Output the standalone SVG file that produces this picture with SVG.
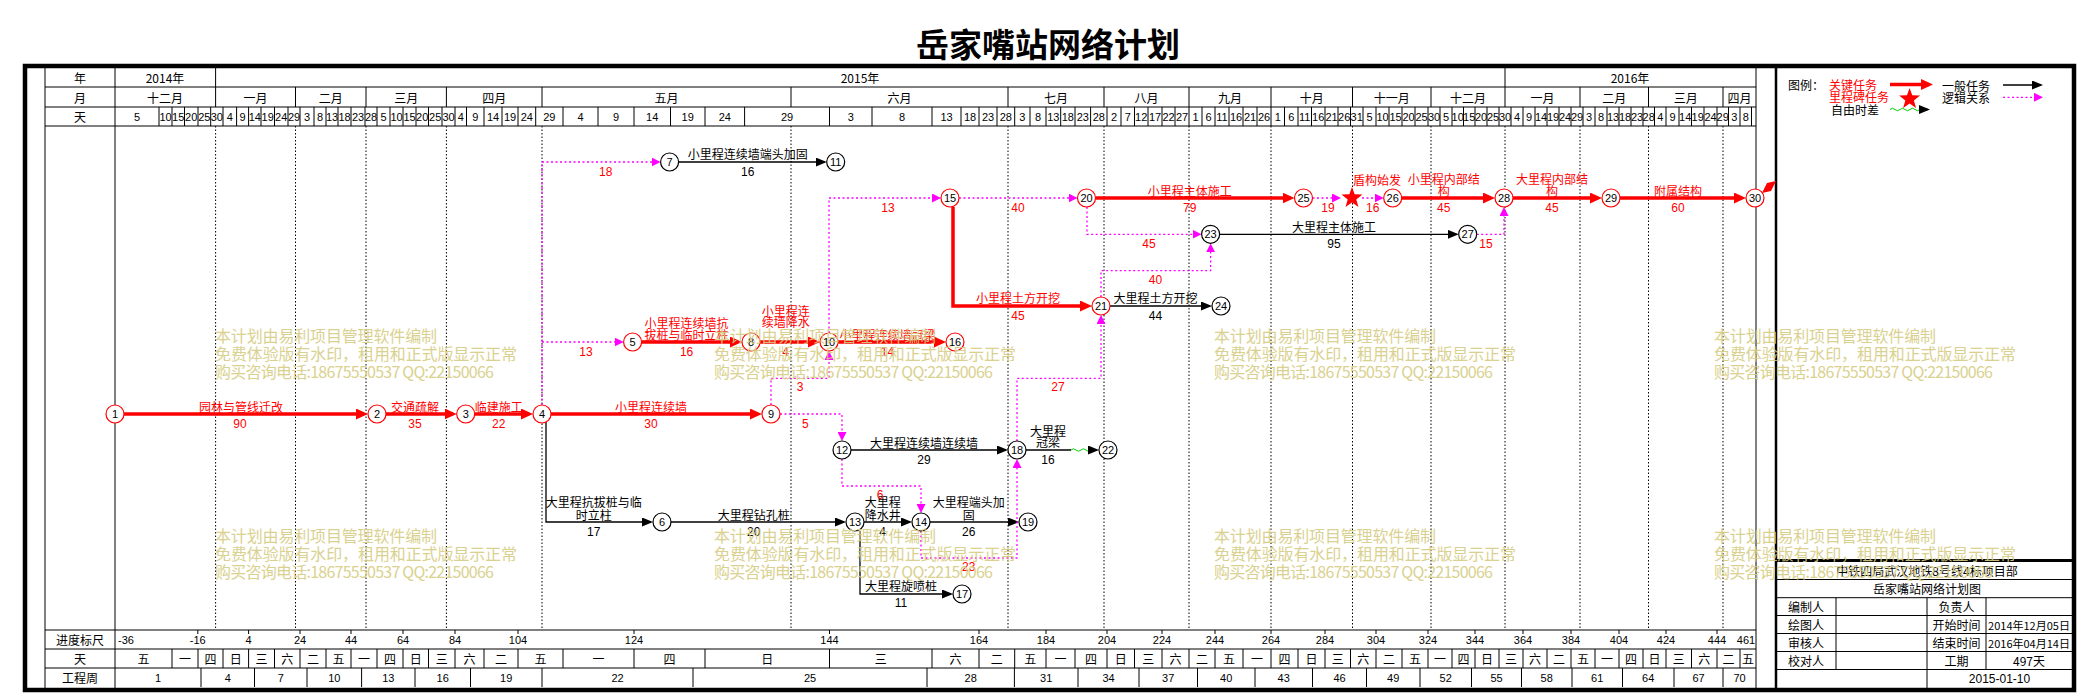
<svg xmlns="http://www.w3.org/2000/svg" width="2080" height="694" viewBox="0 0 2080 694">
<style>
text{font-family:"Noto Sans CJK SC","Liberation Sans",sans-serif;font-size:12px;fill:#000;text-anchor:middle;dominant-baseline:central}
.n{font-family:"Liberation Sans Narrow","Liberation Sans","DejaVu Sans",sans-serif;font-size:11px}
.d{font-family:"Liberation Sans Narrow","Liberation Sans","DejaVu Sans",sans-serif;font-size:12px}
.r{fill:#f00}
.st{text-anchor:start}
.thin{stroke:#000;stroke-width:1;fill:none}
.grid{stroke:#000;stroke-width:1;stroke-dasharray:1.5 2;fill:none}
.crit{stroke:#f00;stroke-width:3.5;fill:none}
.gen{stroke:#000;stroke-width:1.3;fill:none}
.lg{stroke:#f0f;stroke-width:1.3;stroke-dasharray:2 2.5;fill:none}
.node circle{fill:#fff;stroke:#000;stroke-width:1.2}
.node.c circle{stroke:#f00}
.wm text{fill:#d6cd84;font-size:16px;text-anchor:start;opacity:0.9}
</style>
<defs>
<marker id="arR" markerUnits="userSpaceOnUse" markerWidth="12" markerHeight="11" viewBox="0 0 12 11" refX="8" refY="5.5" orient="auto"><polygon points="0,0 12,5.5 0,11" fill="#f00"/></marker>
<marker id="arK" markerUnits="userSpaceOnUse" markerWidth="11" markerHeight="9" viewBox="0 0 11 9" refX="9" refY="4.5" orient="auto"><polygon points="0,0 11,4.5 0,9" fill="#000"/></marker>
<marker id="arM" markerUnits="userSpaceOnUse" markerWidth="9" markerHeight="9" viewBox="0 0 9 9" refX="7" refY="4.5" orient="auto"><polygon points="0,0 9,4.5 0,9" fill="#f0f"/></marker>
<polygon id="star" points="0,-11 2.65,-3.64 10.46,-3.4 4.28,1.39 6.47,8.9 0,4.5 -6.47,8.9 -4.28,1.39 -10.46,-3.4 -2.65,-3.64" fill="#f00"/>
</defs>
<rect x="0" y="0" width="2080" height="694" fill="#fff"/>
<text x="1048" y="43" style="font-size:33px;font-weight:bold">岳家嘴站网络计划</text>

<g id="frame">
<rect x="25" y="66" width="2049" height="624" fill="none" stroke="#000" stroke-width="4.5"/>
<path class="thin" d="M45,68V688 M115,68V688 M1756,68V688 M45,87H1756 M45,107H1756 M45,126H1756 M45,630H1756 M45,649H1756 M45,668H1756"/>
<path d="M1776,66V690" stroke="#000" stroke-width="2.5"/>
<path class="thin" d="M215.6,68v19 M1505,68v19"/>
<path class="thin" d="M215.6,87v20 M295.5,87v20 M366,87v20 M446.4,87v20 M542,87v20 M791,87v20 M1008,87v20 M1104,87v20 M1189,87v20 M1271,87v20 M1352.5,87v20 M1431,87v20 M1505,87v20 M1580,87v20 M1648.5,87v20 M1723,87v20"/>
<path class="thin" d="M159,107v19M172,107v19M184.5,107v19M198,107v19M210.7,107v19M223,107v19M236.6,107v19M248.6,107v19M261,107v19M274.5,107v19M288,107v19M300,107v19M314,107v19M326,107v19M338,107v19M351,107v19M365,107v19M377,107v19M390,107v19M403,107v19M416,107v19M428.5,107v19M442,107v19M455,107v19M466.5,107v19M484,107v19M502,107v19M518,107v19M535.7,107v19M563,107v19M598,107v19M634,107v19M670.5,107v19M705,107v19M744.6,107v19M829.5,107v19M872,107v19M932,107v19M961,107v19M979,107v19M997,107v19M1014.7,107v19M1030,107v19M1046,107v19M1060.7,107v19M1075,107v19M1090.6,107v19M1107,107v19M1121,107v19M1134.5,107v19M1148,107v19M1162,107v19M1175,107v19M1189,107v19M1202,107v19M1215,107v19M1229,107v19M1243,107v19M1257,107v19M1271,107v19M1284.5,107v19M1298,107v19M1311.5,107v19M1325,107v19M1338,107v19M1350.5,107v19M1363,107v19M1376,107v19M1389,107v19M1402,107v19M1415,107v19M1428,107v19M1440,107v19M1452,107v19M1463.5,107v19M1475,107v19M1487,107v19M1499,107v19M1511,107v19M1523,107v19M1535,107v19M1547,107v19M1559,107v19M1571,107v19M1583,107v19M1595,107v19M1607,107v19M1619,107v19M1631,107v19M1643,107v19M1654.5,107v19M1666,107v19M1679,107v19M1691.5,107v19M1704,107v19M1717,107v19M1728.5,107v19M1740,107v19M1751.5,107v19"/>
<path class="grid" d="M215.6,126V630 M295.5,126V630 M366,126V630 M446.4,126V630 M542,126V630 M791,126V630 M1008,126V630 M1104,126V630 M1189,126V630 M1271,126V630 M1352.5,126V630 M1431,126V630 M1505,126V630 M1580,126V630 M1648.5,126V630 M1723,126V630"/>
<path class="thin" d="M197.8,630v4M248.6,630v4M300,630v4M351,630v4M403,630v4M455,630v4M518,630v4M634,630v4M829.5,630v4M979,630v4M1046,630v4M1107,630v4M1162,630v4M1215,630v4M1271,630v4M1325,630v4M1376,630v4M1428,630v4M1475,630v4M1523,630v4M1571,630v4M1619,630v4M1666,630v4M1717,630v4"/>
<path class="thin" d="M172,649v19M198,649v19M223,649v19M248.6,649v19M274.5,649v19M300,649v19M326,649v19M351,649v19M377,649v19M403,649v19M428.5,649v19M455,649v19M484,649v19M518,649v19M563,649v19M634,649v19M705,649v19M829.5,649v19M932,649v19M979,649v19M1014.7,649v19M1046,649v19M1075,649v19M1107,649v19M1134.5,649v19M1162,649v19M1189,649v19M1215,649v19M1243,649v19M1271,649v19M1298,649v19M1325,649v19M1350.5,649v19M1376,649v19M1402,649v19M1428,649v19M1452,649v19M1475,649v19M1499,649v19M1523,649v19M1547,649v19M1571,649v19M1595,649v19M1619,649v19M1643,649v19M1666,649v19M1691.5,649v19M1717,649v19M1740,649v19"/>
<path class="thin" d="M201,668v19M254.5,668v19M307,668v19M361.6,668v19M415,668v19M470.5,668v19M542,668v19M693,668v19M927,668v19M1014.4,668v19M1078,668v19M1139,668v19M1197.5,668v19M1255,668v19M1312.5,668v19M1366.5,668v19M1420,668v19M1471.5,668v19M1521.5,668v19M1572,668v19M1622.5,668v19M1674,668v19M1723,668v19"/>
</g>

<g id="header-text">
<text x="80" y="77.5">年</text><text x="80" y="97">月</text><text x="80" y="116.5">天</text>
<text x="165" y="77.5">2014年</text><text x="860" y="77.5">2015年</text><text x="1630" y="77.5">2016年</text>
<text x="165" y="97">十二月</text><text x="255.5" y="97">一月</text><text x="330.7" y="97">二月</text><text x="406.2" y="97">三月</text><text x="494.2" y="97">四月</text><text x="666.5" y="97">五月</text><text x="899.5" y="97">六月</text><text x="1056" y="97">七月</text><text x="1146.5" y="97">八月</text><text x="1230" y="97">九月</text><text x="1311.7" y="97">十月</text><text x="1391.7" y="97">十一月</text><text x="1468" y="97">十二月</text><text x="1542.5" y="97">一月</text><text x="1614.2" y="97">二月</text><text x="1685.7" y="97">三月</text><text x="1739.5" y="97">四月</text>
</g>
<g id="day-labels" class="n">
<text class="n" x="137" y="116.5">5</text><text class="n" x="165.5" y="116.5">10</text><text class="n" x="178.2" y="116.5">15</text><text class="n" x="191.2" y="116.5">20</text><text class="n" x="204.3" y="116.5">25</text><text class="n" x="216.8" y="116.5">30</text>
<text class="n" x="229.8" y="116.5">4</text><text class="n" x="242.6" y="116.5">9</text><text class="n" x="254.8" y="116.5">14</text><text class="n" x="267.7" y="116.5">19</text><text class="n" x="281.2" y="116.5">24</text><text class="n" x="294" y="116.5">29</text>
<text class="n" x="307" y="116.5">3</text><text class="n" x="320" y="116.5">8</text><text class="n" x="332" y="116.5">13</text><text class="n" x="344.5" y="116.5">18</text><text class="n" x="358" y="116.5">23</text><text class="n" x="371" y="116.5">28</text>
<text class="n" x="383.5" y="116.5">5</text><text class="n" x="396.5" y="116.5">10</text><text class="n" x="409.5" y="116.5">15</text><text class="n" x="422.2" y="116.5">20</text><text class="n" x="435.2" y="116.5">25</text><text class="n" x="448.5" y="116.5">30</text>
<text class="n" x="460.7" y="116.5">4</text><text class="n" x="475.2" y="116.5">9</text><text class="n" x="493" y="116.5">14</text><text class="n" x="510" y="116.5">19</text><text class="n" x="526.8" y="116.5">24</text><text class="n" x="549.3" y="116.5">29</text>
<text class="n" x="580.5" y="116.5">4</text><text class="n" x="616" y="116.5">9</text><text class="n" x="652.2" y="116.5">14</text><text class="n" x="687.7" y="116.5">19</text><text class="n" x="724.8" y="116.5">24</text><text class="n" x="787" y="116.5">29</text>
<text class="n" x="850.7" y="116.5">3</text><text class="n" x="902" y="116.5">8</text><text class="n" x="946.5" y="116.5">13</text><text class="n" x="970" y="116.5">18</text><text class="n" x="988" y="116.5">23</text><text class="n" x="1005.8" y="116.5">28</text>
<text class="n" x="1022.3" y="116.5">3</text><text class="n" x="1038" y="116.5">8</text><text class="n" x="1053.3" y="116.5">13</text><text class="n" x="1067.8" y="116.5">18</text><text class="n" x="1082.8" y="116.5">23</text><text class="n" x="1098.8" y="116.5">28</text>
<text class="n" x="1114" y="116.5">2</text><text class="n" x="1127.7" y="116.5">7</text><text class="n" x="1141.2" y="116.5">12</text><text class="n" x="1155" y="116.5">17</text><text class="n" x="1168.5" y="116.5">22</text><text class="n" x="1182" y="116.5">27</text>
<text class="n" x="1195.5" y="116.5">1</text><text class="n" x="1208.5" y="116.5">6</text><text class="n" x="1222" y="116.5">11</text><text class="n" x="1236" y="116.5">16</text><text class="n" x="1250" y="116.5">21</text><text class="n" x="1264" y="116.5">26</text>
<text class="n" x="1277.7" y="116.5">1</text><text class="n" x="1291.2" y="116.5">6</text><text class="n" x="1304.7" y="116.5">11</text><text class="n" x="1318.2" y="116.5">16</text><text class="n" x="1331.5" y="116.5">21</text><text class="n" x="1344.2" y="116.5">26</text><text class="n" x="1356.7" y="116.5">31</text>
<text class="n" x="1369.5" y="116.5">5</text><text class="n" x="1382.5" y="116.5">10</text><text class="n" x="1395.5" y="116.5">15</text><text class="n" x="1408.5" y="116.5">20</text><text class="n" x="1421.5" y="116.5">25</text><text class="n" x="1434" y="116.5">30</text>
<text class="n" x="1446" y="116.5">5</text><text class="n" x="1457.7" y="116.5">10</text><text class="n" x="1469.2" y="116.5">15</text><text class="n" x="1481" y="116.5">20</text><text class="n" x="1493" y="116.5">25</text><text class="n" x="1505" y="116.5">30</text>
<text class="n" x="1517" y="116.5">4</text><text class="n" x="1529" y="116.5">9</text><text class="n" x="1541" y="116.5">14</text><text class="n" x="1553" y="116.5">19</text><text class="n" x="1565" y="116.5">24</text><text class="n" x="1577" y="116.5">29</text>
<text class="n" x="1589" y="116.5">3</text><text class="n" x="1601" y="116.5">8</text><text class="n" x="1613" y="116.5">13</text><text class="n" x="1625" y="116.5">18</text><text class="n" x="1637" y="116.5">23</text><text class="n" x="1648.7" y="116.5">28</text>
<text class="n" x="1660.2" y="116.5">4</text><text class="n" x="1672.5" y="116.5">9</text><text class="n" x="1685.2" y="116.5">14</text><text class="n" x="1697.7" y="116.5">19</text><text class="n" x="1710.5" y="116.5">24</text><text class="n" x="1722.7" y="116.5">29</text>
<text class="n" x="1734.2" y="116.5">3</text><text class="n" x="1745.7" y="116.5">8</text>
</g>

<g id="bottom-rows">
<text x="80" y="639.5">进度标尺</text><text x="80" y="658.5">天</text><text x="80" y="677.5">工程周</text>
<text class="n" x="126" y="639.5">-36</text><text class="n" x="197.8" y="639.5">-16</text><text class="n" x="248.6" y="639.5">4</text><text class="n" x="300" y="639.5">24</text><text class="n" x="351" y="639.5">44</text><text class="n" x="403" y="639.5">64</text><text class="n" x="455" y="639.5">84</text><text class="n" x="518" y="639.5">104</text><text class="n" x="634" y="639.5">124</text><text class="n" x="829.5" y="639.5">144</text><text class="n" x="979" y="639.5">164</text><text class="n" x="1046" y="639.5">184</text><text class="n" x="1107" y="639.5">204</text><text class="n" x="1162" y="639.5">224</text><text class="n" x="1215" y="639.5">244</text><text class="n" x="1271" y="639.5">264</text><text class="n" x="1325" y="639.5">284</text><text class="n" x="1376" y="639.5">304</text><text class="n" x="1428" y="639.5">324</text><text class="n" x="1475" y="639.5">344</text><text class="n" x="1523" y="639.5">364</text><text class="n" x="1571" y="639.5">384</text><text class="n" x="1619" y="639.5">404</text><text class="n" x="1666" y="639.5">424</text><text class="n" x="1717" y="639.5">444</text><text class="n" x="1746" y="639.5">461</text>
<text x="143.5" y="658.5">五</text><text x="185" y="658.5">一</text><text x="210.5" y="658.5">四</text><text x="235.8" y="658.5">日</text><text x="261.5" y="658.5">三</text><text x="287.2" y="658.5">六</text><text x="313" y="658.5">二</text><text x="338.5" y="658.5">五</text><text x="364" y="658.5">一</text><text x="390" y="658.5">四</text><text x="415.7" y="658.5">日</text><text x="441.7" y="658.5">三</text><text x="469.5" y="658.5">六</text><text x="501" y="658.5">二</text><text x="540.5" y="658.5">五</text><text x="598.5" y="658.5">一</text><text x="669.5" y="658.5">四</text><text x="767.2" y="658.5">日</text><text x="880.7" y="658.5">三</text><text x="955.5" y="658.5">六</text><text x="996.8" y="658.5">二</text><text x="1030.3" y="658.5">五</text><text x="1060.5" y="658.5">一</text><text x="1091" y="658.5">四</text><text x="1120.7" y="658.5">日</text><text x="1148.2" y="658.5">三</text><text x="1175.5" y="658.5">六</text><text x="1202" y="658.5">二</text><text x="1229" y="658.5">五</text><text x="1257" y="658.5">一</text><text x="1284.5" y="658.5">四</text><text x="1311.5" y="658.5">日</text><text x="1337.7" y="658.5">三</text><text x="1363.2" y="658.5">六</text><text x="1389" y="658.5">二</text><text x="1415" y="658.5">五</text><text x="1440" y="658.5">一</text><text x="1463.5" y="658.5">四</text><text x="1487" y="658.5">日</text><text x="1511" y="658.5">三</text><text x="1535" y="658.5">六</text><text x="1559" y="658.5">二</text><text x="1583" y="658.5">五</text><text x="1607" y="658.5">一</text><text x="1631" y="658.5">四</text><text x="1654.5" y="658.5">日</text><text x="1678.7" y="658.5">三</text><text x="1704.2" y="658.5">六</text><text x="1728.5" y="658.5">二</text><text x="1748" y="658.5">五</text>
<text class="n" x="158" y="677.5">1</text><text class="n" x="227.7" y="677.5">4</text><text class="n" x="280.7" y="677.5">7</text><text class="n" x="334.3" y="677.5">10</text><text class="n" x="388.3" y="677.5">13</text><text class="n" x="442.7" y="677.5">16</text><text class="n" x="506.2" y="677.5">19</text><text class="n" x="617.5" y="677.5">22</text><text class="n" x="810" y="677.5">25</text><text class="n" x="970.7" y="677.5">28</text><text class="n" x="1046.2" y="677.5">31</text><text class="n" x="1108.5" y="677.5">34</text><text class="n" x="1168.2" y="677.5">37</text><text class="n" x="1226.2" y="677.5">40</text><text class="n" x="1283.7" y="677.5">43</text><text class="n" x="1339.5" y="677.5">46</text><text class="n" x="1393.2" y="677.5">49</text><text class="n" x="1445.7" y="677.5">52</text><text class="n" x="1496.5" y="677.5">55</text><text class="n" x="1546.7" y="677.5">58</text><text class="n" x="1597.2" y="677.5">61</text><text class="n" x="1648.2" y="677.5">64</text><text class="n" x="1698.5" y="677.5">67</text><text class="n" x="1739.5" y="677.5">70</text>
</g>

<g id="legend">
<text class="st" x="1788" y="84.5">图例：</text>
<text class="st r" x="1829" y="84.5">关键任务</text>
<text class="st r" x="1829" y="96">里程碑任务</text>
<text class="st" x="1831" y="109.5">自由时差</text>
<path class="crit" d="M1890,84.5H1929" marker-end="url(#arR)"/>
<use href="#star" x="1909.6" y="99"/>
<path d="M1890,109.5q2.5,-2.5 5,0t5,0t5,0t5,0t5,0t5,0" stroke="#0c0" stroke-width="1" fill="none"/>
<path class="gen" d="M1920,109.5H1928" marker-end="url(#arK)"/>
<text class="st" x="1942" y="85">一般任务</text>
<text class="st" x="1942" y="97">逻辑关系</text>
<path class="gen" d="M2003,85H2041" marker-end="url(#arK)"/>
<path class="lg" d="M2003,97.3H2041" marker-end="url(#arM)"/>
</g>

<g id="title-block">
<path d="M1776,560.5H2073" stroke="#000" stroke-width="3"/>
<path class="thin" d="M1776,579.5H2072 M1776,597.7H2072 M1776,615.5H2072 M1776,633.5H2072 M1776,651.5H2072 M1776,669.5H2072 M1836,597.7V669.5 M1927,597.7V688 M1986,597.7V669.5"/>
<text x="1927" y="570">中铁四局武汉地铁8号线4标项目部</text>
<text x="1927" y="588.6">岳家嘴站网络计划图</text>
<text x="1806" y="606.5">编制人</text><text x="1956.5" y="606.5">负责人</text>
<text x="1806" y="624.5">绘图人</text><text x="1956.5" y="624.5">开始时间</text><text x="2029" y="624.5" style="font-size:11px">2014年12月05日</text>
<text x="1806" y="642.5">审核人</text><text x="1956.5" y="642.5">结束时间</text><text x="2029" y="642.5" style="font-size:11px">2016年04月14日</text>
<text x="1806" y="660.5">校对人</text><text x="1956.5" y="660.5">工期</text><text x="2029" y="660.5">497天</text>
<text class="n" x="1999.5" y="678.5" style="font-size:12px">2015-01-10</text>
</g>

<g id="connectors">
<path class="crit" d="M124,414H364" marker-end="url(#arR)"/>
<path class="crit" d="M386,414H452.7" marker-end="url(#arR)"/>
<path class="crit" d="M474.7,414H529" marker-end="url(#arR)"/>
<path class="crit" d="M551,414H758" marker-end="url(#arR)"/>
<path class="crit" d="M641.6,342H738" marker-end="url(#arR)"/>
<path class="crit" d="M760,342H816" marker-end="url(#arR)"/>
<path class="crit" d="M838,342H942" marker-end="url(#arR)"/>
<path class="crit" d="M953,207V306H1088" marker-end="url(#arR)"/>
<path class="crit" d="M1095.5,198H1290.5" marker-end="url(#arR)"/>
<path class="crit" d="M1401.7,198H1491" marker-end="url(#arR)"/>
<path class="crit" d="M1513,198H1598" marker-end="url(#arR)"/>
<path class="crit" d="M1620,198H1742" marker-end="url(#arR)"/>
<path class="gen" d="M678.6,162H824.7" marker-end="url(#arK)"/>
<path class="gen" d="M1219.6,234.3H1456.7" marker-end="url(#arK)"/>
<path class="gen" d="M1110,306H1210" marker-end="url(#arK)"/>
<path class="gen" d="M851,450H1006" marker-end="url(#arK)"/>
<path class="gen" d="M1026,450H1071"/>
<path d="M1071,450q2.5,-2.5 5,0t5,0t5,0t4,0" stroke="#0c0" stroke-width="1" fill="none"/>
<path class="gen" d="M1090,450H1097" marker-end="url(#arK)"/>
<path class="gen" d="M546,422V522H651" marker-end="url(#arK)"/>
<path class="gen" d="M671,522H844" marker-end="url(#arK)"/>
<path class="gen" d="M864,522H910" marker-end="url(#arK)"/>
<path class="gen" d="M930,522H1017" marker-end="url(#arK)"/>
<path class="gen" d="M860,531V594H951" marker-end="url(#arK)"/>
<path class="lg" d="M542,405V162H658.6" marker-end="url(#arM)"/>
<path class="lg" d="M542,342H621.6" marker-end="url(#arM)"/>
<path class="lg" d="M780,414H842V439" marker-end="url(#arM)"/>
<path class="lg" d="M771,405V378.3H829V353" marker-end="url(#arM)"/>
<path class="lg" d="M829,333V198H939" marker-end="url(#arM)"/>
<path class="lg" d="M959,198H1075.5" marker-end="url(#arM)"/>
<path class="lg" d="M1087,207V234.3H1199.6" marker-end="url(#arM)"/>
<path class="lg" d="M1101,297V270.7H1210.6V245.3" marker-end="url(#arM)"/>
<path class="lg" d="M1476.7,234.3H1504V209" marker-end="url(#arM)"/>
<path class="lg" d="M1312.5,198H1339" marker-end="url(#arM)"/>
<path class="lg" d="M1362,198H1381.7" marker-end="url(#arM)"/>
<path class="lg" d="M842,459V486H921V511" marker-end="url(#arM)"/>
<path class="lg" d="M921,531V558H1017V461" marker-end="url(#arM)"/>
<path class="lg" d="M1017,441V378.3H1101V317" marker-end="url(#arM)"/>
</g>

<g id="edge-labels">
<text class="r" x="241" y="406">园林与管线迁改</text><text class="d r" x="240" y="424">90</text>
<text class="r" x="415" y="406">交通疏解</text><text class="d r" x="415" y="424">35</text>
<text class="r" x="498.7" y="406">临建施工</text><text class="d r" x="498.7" y="424">22</text>
<text class="r" x="651" y="406">小里程连续墙</text><text class="d r" x="651" y="424">30</text>
<text class="r" x="686.6" y="322">小里程连续墙抗</text><text class="r" x="686.6" y="334">拔桩与临时立柱</text><text class="d r" x="686.6" y="352">16</text>
<text class="r" x="785.7" y="310">小里程连</text><text class="r" x="785.7" y="321.7">续墙降水</text><text class="d r" x="785.7" y="352">4</text>
<text class="r" x="887.5" y="334">小里程连续墙冠梁</text><text class="d r" x="887.5" y="352">14</text>
<text class="r" x="1018" y="297.7">小里程土方开挖</text><text class="d r" x="1018" y="316">45</text>
<text class="r" x="1189.7" y="190">小里程主体施工</text><text class="d r" x="1189.7" y="208">79</text>
<text class="r" x="1377" y="179">盾构始发</text>
<text class="r" x="1443.7" y="178.3">小里程内部结</text><text class="r" x="1443.7" y="190">构</text><text class="d r" x="1443.7" y="208">45</text>
<text class="r" x="1552" y="178.3">大里程内部结</text><text class="r" x="1552" y="190">构</text><text class="d r" x="1552" y="208">45</text>
<text class="r" x="1678" y="190">附属结构</text><text class="d r" x="1678" y="208">60</text>
<text x="747.7" y="153.3">小里程连续墙端头加固</text><text class="d" x="747.7" y="171.7">16</text>
<text x="1334" y="226.7">大里程主体施工</text><text class="d" x="1334" y="244.3">95</text>
<text x="1155.5" y="297.7">大里程土方开挖</text><text class="d" x="1155.5" y="316">44</text>
<text x="924" y="442.3">大里程连续墙连续墙</text><text class="d" x="924" y="460">29</text>
<text x="1048" y="430">大里程</text><text x="1048" y="441.7">冠梁</text><text class="d" x="1048" y="460">16</text>
<text x="593.8" y="501">大里程抗拔桩与临</text><text x="593.8" y="514.3">时立柱</text><text class="d" x="593.8" y="531.7">17</text>
<text x="753.7" y="514.3">大里程钻孔桩</text><text class="d" x="753.7" y="531.7">20</text>
<text x="882.7" y="501">大里程</text><text x="882.7" y="514.3">降水井</text><text class="d" x="882.7" y="531.7">4</text>
<text x="968.8" y="501">大里程端头加</text><text x="968.8" y="514.3">固</text><text class="d" x="968.8" y="531.7">26</text>
<text x="901" y="585.7">大里程旋喷桩</text><text class="d" x="901" y="603.3">11</text>
<text class="d r" x="605.8" y="171.7">18</text>
<text class="d r" x="586" y="351.7">13</text>
<text class="d r" x="805.4" y="424">5</text>
<text class="d r" x="800" y="387.3">3</text>
<text class="d r" x="888" y="207.7">13</text>
<text class="d r" x="1018" y="207.7">40</text>
<text class="d r" x="1149" y="244.3">45</text>
<text class="d r" x="1155.5" y="280">40</text>
<text class="d r" x="1486" y="244.3">15</text>
<text class="d r" x="1328" y="208">19</text>
<text class="d r" x="1372.8" y="208">16</text>
<text class="d r" x="880" y="495">6</text>
<text class="d r" x="968.8" y="566.7">23</text>
<text class="d r" x="1058" y="387.3">27</text>
</g>

<g id="node-1" class="node c"><circle cx="115" cy="414" r="9"/><text class="n" x="115" y="414">1</text></g>
<g id="node-2" class="node c"><circle cx="377" cy="414" r="9"/><text class="n" x="377" y="414">2</text></g>
<g id="node-3" class="node c"><circle cx="465.7" cy="414" r="9"/><text class="n" x="465.7" y="414">3</text></g>
<g id="node-4" class="node c"><circle cx="542" cy="414" r="9"/><text class="n" x="542" y="414">4</text></g>
<g id="node-5" class="node c"><circle cx="632.6" cy="342" r="9"/><text class="n" x="632.6" y="342">5</text></g>
<g id="node-6" class="node"><circle cx="662" cy="522" r="9"/><text class="n" x="662" y="522">6</text></g>
<g id="node-7" class="node"><circle cx="669.6" cy="162" r="9"/><text class="n" x="669.6" y="162">7</text></g>
<g id="node-8" class="node c"><circle cx="751" cy="342" r="9"/><text class="n" x="751" y="342">8</text></g>
<g id="node-9" class="node c"><circle cx="771" cy="414" r="9"/><text class="n" x="771" y="414">9</text></g>
<g id="node-10" class="node c"><circle cx="829" cy="342" r="9"/><text class="n" x="829" y="342">10</text></g>
<g id="node-11" class="node"><circle cx="835.7" cy="162" r="9"/><text class="n" x="835.7" y="162">11</text></g>
<g id="node-12" class="node"><circle cx="842" cy="450" r="9"/><text class="n" x="842" y="450">12</text></g>
<g id="node-13" class="node"><circle cx="855" cy="522" r="9"/><text class="n" x="855" y="522">13</text></g>
<g id="node-14" class="node"><circle cx="921" cy="522" r="9"/><text class="n" x="921" y="522">14</text></g>
<g id="node-15" class="node c"><circle cx="950" cy="198" r="9"/><text class="n" x="950" y="198">15</text></g>
<g id="node-16" class="node c"><circle cx="955" cy="342" r="9"/><text class="n" x="955" y="342">16</text></g>
<g id="node-17" class="node"><circle cx="962" cy="594" r="9"/><text class="n" x="962" y="594">17</text></g>
<g id="node-18" class="node"><circle cx="1017" cy="450" r="9"/><text class="n" x="1017" y="450">18</text></g>
<g id="node-19" class="node"><circle cx="1028" cy="522" r="9"/><text class="n" x="1028" y="522">19</text></g>
<g id="node-20" class="node c"><circle cx="1086.5" cy="198" r="9"/><text class="n" x="1086.5" y="198">20</text></g>
<g id="node-21" class="node c"><circle cx="1101" cy="306" r="9"/><text class="n" x="1101" y="306">21</text></g>
<g id="node-22" class="node"><circle cx="1108" cy="450" r="9"/><text class="n" x="1108" y="450">22</text></g>
<g id="node-23" class="node"><circle cx="1210.6" cy="234.3" r="9"/><text class="n" x="1210.6" y="234.3">23</text></g>
<g id="node-24" class="node"><circle cx="1221" cy="306" r="9"/><text class="n" x="1221" y="306">24</text></g>
<g id="node-25" class="node c"><circle cx="1303.5" cy="198" r="9"/><text class="n" x="1303.5" y="198">25</text></g>
<g id="milestone"><use href="#star" x="1352" y="198"/></g>
<g id="node-26" class="node c"><circle cx="1392.7" cy="198" r="9"/><text class="n" x="1392.7" y="198">26</text></g>
<g id="node-27" class="node"><circle cx="1467.7" cy="234.3" r="9"/><text class="n" x="1467.7" y="234.3">27</text></g>
<g id="node-28" class="node c"><circle cx="1504" cy="198" r="9"/><text class="n" x="1504" y="198">28</text></g>
<g id="node-29" class="node c"><circle cx="1611" cy="198" r="9"/><text class="n" x="1611" y="198">29</text></g>
<g id="node-30" class="node c"><circle cx="1755" cy="198" r="9"/><text class="n" x="1755" y="198">30</text><polygon points="1762,193 1767,183 1776,181 1771,191" fill="#f00"/></g>

<g id="watermark" class="wm">
<text x="215" y="335" textLength="222">本计划由易利项目管理软件编制</text><text x="215" y="353" textLength="302">免费体验版有水印，租用和正式版显示正常</text><text x="215" y="371" textLength="279">购买咨询电话:18675550537 QQ:22150066</text>
<text x="714" y="335" textLength="222">本计划由易利项目管理软件编制</text><text x="714" y="353" textLength="302">免费体验版有水印，租用和正式版显示正常</text><text x="714" y="371" textLength="279">购买咨询电话:18675550537 QQ:22150066</text>
<text x="1214" y="335" textLength="222">本计划由易利项目管理软件编制</text><text x="1214" y="353" textLength="302">免费体验版有水印，租用和正式版显示正常</text><text x="1214" y="371" textLength="279">购买咨询电话:18675550537 QQ:22150066</text>
<text x="1714" y="335" textLength="222">本计划由易利项目管理软件编制</text><text x="1714" y="353" textLength="302">免费体验版有水印，租用和正式版显示正常</text><text x="1714" y="371" textLength="279">购买咨询电话:18675550537 QQ:22150066</text>
<text x="215" y="535" textLength="222">本计划由易利项目管理软件编制</text><text x="215" y="553" textLength="302">免费体验版有水印，租用和正式版显示正常</text><text x="215" y="571" textLength="279">购买咨询电话:18675550537 QQ:22150066</text>
<text x="714" y="535" textLength="222">本计划由易利项目管理软件编制</text><text x="714" y="553" textLength="302">免费体验版有水印，租用和正式版显示正常</text><text x="714" y="571" textLength="279">购买咨询电话:18675550537 QQ:22150066</text>
<text x="1214" y="535" textLength="222">本计划由易利项目管理软件编制</text><text x="1214" y="553" textLength="302">免费体验版有水印，租用和正式版显示正常</text><text x="1214" y="571" textLength="279">购买咨询电话:18675550537 QQ:22150066</text>
<text x="1714" y="535" textLength="222">本计划由易利项目管理软件编制</text><text x="1714" y="553" textLength="302">免费体验版有水印，租用和正式版显示正常</text><text x="1714" y="571" textLength="279">购买咨询电话:18675550537 QQ:22150066</text>
</g>
</svg>
